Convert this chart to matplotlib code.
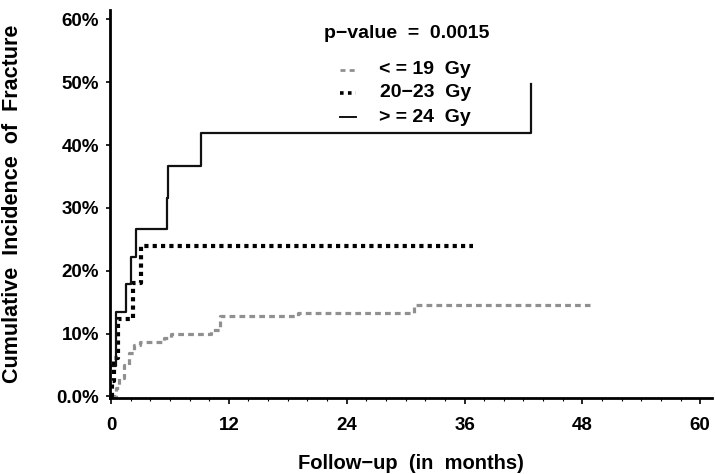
import matplotlib
matplotlib.use("Agg")
import matplotlib.pyplot as plt
from matplotlib.ticker import MultipleLocator

plt.rcParams['font.family'] = ['Liberation Sans', 'DejaVu Sans']

# ---- data (months, cumulative incidence %) ----
low_t = [0, 0.5, 0.85, 1.35, 1.85, 2.35, 3.0, 5.4, 6.1, 10.2, 11.1, 19.0, 30.9, 48.8]
low_v = [0, 1.3, 2.9, 5.0, 6.9, 8.2, 8.6, 9.3, 10.0, 10.6, 12.8, 13.3, 14.6, 14.6]

mid_t = [0, 0.15, 0.34, 0.7, 2.2, 3.1, 36.9]
mid_v = [0, 2.5, 6.1, 12.3, 18.1, 24.0, 24.0]

high_t = [0, 0.5, 1.5, 2.0, 2.5, 5.7, 5.85, 9.2, 42.8]
high_v = [4.8, 13.4, 17.9, 22.2, 26.7, 31.6, 36.7, 41.9, 49.8]

labels = ['< = 19  Gy', '20\u221223  Gy', '> = 24  Gy']
p_text = 'p\u2212value  =  0.0015'
x_ticks = [0, 12, 24, 36, 48, 60]
y_ticks = [0, 10, 20, 30, 40, 50, 60]
y_tick_labels = ['0.0%', '10%', '20%', '30%', '40%', '50%', '60%']

fig = plt.figure(figsize=(7.15, 4.74), dpi=100)
ax = fig.add_axes([110/715, (474-398)/474, (712-110)/715, (398-10)/474])

gray = '#909090'
ax.plot(low_t, low_v, drawstyle='steps-post', color=gray, lw=2.3,
        linestyle=(0, (1.8, 1.3)), dash_capstyle='butt')
ax.plot(mid_t, mid_v, drawstyle='steps-post', color='black', lw=3.0,
        linestyle=(0, (1.0, 1.0)), dash_capstyle='butt')
ax.plot(high_t, high_v, drawstyle='steps-post', color='#111111', lw=1.6)

ax.set_xlim(-0.1, 61.2)
ax.set_ylim(-0.25, 61.5)
ax.spines['top'].set_visible(False)
ax.spines['right'].set_visible(False)
for s in ('left', 'bottom'):
    ax.spines[s].set_linewidth(2.0)

ax.set_xticks(x_ticks)
ax.set_xticklabels([str(v) for v in x_ticks], fontsize=13.5, fontweight='bold')
ax.xaxis.set_minor_locator(MultipleLocator(2))
ax.set_yticks(y_ticks)
ax.set_yticklabels(y_tick_labels, fontsize=13.5, fontweight='bold')
ax.tick_params(axis='x', which='major', direction='out', length=4, width=1.2, pad=10)
ax.tick_params(axis='y', which='major', direction='out', length=3, width=1.2, pad=5)
ax.tick_params(axis='x', which='minor', direction='out', length=2, width=0.8)

ax.set_xlabel('Follow\u2212up  (in  months)', fontsize=14.5, fontweight='bold', labelpad=14)
ax.set_ylabel('Cumulative  Incidence  of  Fracture', fontsize=15.5, fontweight='bold')
ax.yaxis.set_label_coords(-0.145, 0.5)

# legend block
fig_tr = fig.transFigure
def px(x, y):
    return (x/715, 1 - y/474)

fig.text(*px(407, 34), p_text, fontsize=14, fontweight='bold', ha='center', va='center')
styles = [dict(color=gray, lw=2.0, linestyle=(0, (1.8, 1.5))),
          dict(color='black', lw=2.6, linestyle=(0, (1.0, 1.2))),
          dict(color='#111111', lw=1.4)]
rows_y = [70, 93, 117]
for lab, st, yy in zip(labels, styles, rows_y):
    x0, y0 = px(340, yy)
    x1, _ = px(356, yy)
    fig.add_artist(plt.Line2D([x0, x1], [y0, y0], transform=fig_tr, **st))
    fig.text(*px(471, yy), lab, fontsize=14, fontweight='bold', ha='right', va='center')

fig.savefig('out.png', dpi=100)
